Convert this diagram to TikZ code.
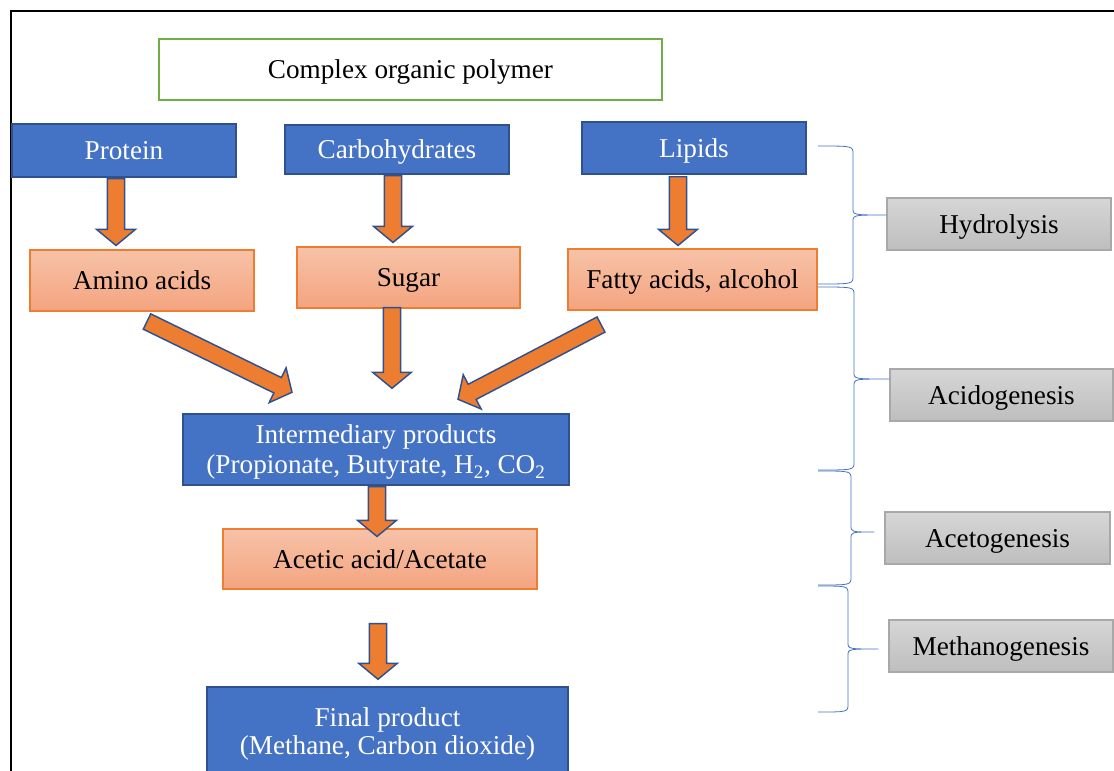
\documentclass[tikz,border=0pt]{standalone}
\usepackage{fontspec}
\setmainfont{Liberation Serif}
\usetikzlibrary{calc}

\definecolor{boxblue}{HTML}{4472C4}
\definecolor{boxblueline}{HTML}{2F528F}
\definecolor{peachtop}{HTML}{F7C2A8}
\definecolor{peachbot}{HTML}{F4A47F}
\definecolor{peachline}{HTML}{ED7D31}
\definecolor{arrowfill}{HTML}{ED7D31}
\definecolor{greyline}{HTML}{A8A8A8}
\definecolor{greytop}{HTML}{D6D6D6}
\definecolor{greybot}{HTML}{BEBEBE}
\definecolor{leafgreen}{HTML}{70AD47}
\definecolor{bracecol}{HTML}{4472C4}

% block arrow from #1 (tail) to #2 (tip)
\newcommand{\blockarrow}[2]{%
  \draw[blockarrowstyle]
    ($(#1)!6.4pt!90:(#2)$) --
    ($($(#2)!12pt!(#1)$)!6.4pt!90:(#2)$) --
    ($($(#2)!12pt!(#1)$)!14.5pt!90:(#2)$) --
    (#2) --
    ($($(#2)!12pt!(#1)$)!14.5pt!-90:(#2)$) --
    ($($(#2)!12pt!(#1)$)!6.4pt!-90:(#2)$) --
    ($(#1)!6.4pt!-90:(#2)$) -- cycle;}

% curly bracket: #1 top end, #2 bottom end, #3 tip, #4 spine offset
\newcommand{\stagebrace}[4]{%
  \draw[bracestyle] let \p1=(#1), \p2=(#2), \p3=(#3) in
    (\p1) .. controls (\x1+#4,\y1) .. (\x1+#4,\y1-6pt)
    -- (\x1+#4,\y3+5pt) .. controls (\x1+#4,\y3) .. (\p3)
    .. controls (\x1+#4,\y3) .. (\x1+#4,\y3-5pt)
    -- (\x1+#4,\y2+6pt) .. controls (\x1+#4,\y2) .. (\p2);}

\tikzset{
  label font/.style={font=\fontsize{20.4pt}{22.5pt}\selectfont},
  oneline/.style={text height=14pt, text depth=0pt},
  bluebox/.style={label font, draw=boxblueline, fill=boxblue, text=white,
    line width=1.1pt, inner sep=0pt, align=center},
  peachbox/.style={label font, oneline, draw=peachline, top color=peachtop,
    bottom color=peachbot, line width=0.8pt, inner sep=0pt, align=center},
  greybox/.style={label font, oneline, draw=greyline, top color=greytop,
    bottom color=greybot, line width=1pt, inner sep=0pt, align=center},
  greenbox/.style={label font, oneline, draw=leafgreen, fill=white, line width=1.1pt,
    inner sep=0pt, align=center},
  blockarrowstyle/.style={fill=arrowfill, draw=boxblueline, line width=1.1pt},
  bracestyle/.style={draw=bracecol, line width=0.6pt},
}

\begin{document}
\begin{tikzpicture}[x=0.75pt, y=-0.75pt]
\useasboundingbox (0,0) rectangle (1114,771);
\fill[white] (0,0) rectangle (1114,771);

% outer frame
\draw[black, line width=1.9pt] (11,790) -- (11,11) -- (1130,11);

% top box
\node[greenbox, minimum width=377pt, minimum height=45.75pt] (poly) at (410.5,69.5) {Complex organic polymer};

% polymer classes
\node[bluebox, oneline, minimum width=168pt, minimum height=39.75pt] (protein) at (124,150.5) {Protein};
\node[bluebox, oneline, minimum width=168pt, minimum height=36.75pt] (carbo) at (397,149.5) {Carbohydrates};
\node[bluebox, oneline, minimum width=168pt, minimum height=39pt] (lipids) at (694,148) {Lipids};

% hydrolysis products
\node[peachbox, minimum width=168pt, minimum height=45.75pt] (amino) at (142,280.5) {Amino acids};
\node[peachbox, minimum width=167.25pt, minimum height=45.75pt] (sugar) at (408.5,277.5) {Sugar};
\node[peachbox, minimum width=186.75pt, minimum height=45.75pt] (fatty) at (692.5,279.5) {Fatty acids, alcohol};

% later products
\node[bluebox, text depth=0pt, minimum width=289.5pt, minimum height=53.25pt] (inter) at (376,449.5)
  {Intermediary products\\(Propionate, Butyrate, H\textsubscript{2}, CO\textsubscript{2}};
\node[peachbox, minimum width=235.5pt, minimum height=45pt] (acetic) at (380,559) {Acetic acid/Acetate};
\node[bluebox, font=\fontsize{20.4pt}{20.5pt}\selectfont, minimum width=270.75pt, minimum height=70.5pt] (final) at (387.5,734)
  {Final product\\(Methane, Carbon dioxide)};

% process stages
\node[greybox, minimum width=168pt, minimum height=39pt] (hydro) at (999,224) {Hydrolysis};
\node[greybox, minimum width=167.25pt, minimum height=39pt] (acido) at (1001.5,395) {Acidogenesis};
\node[greybox, minimum width=168.75pt, minimum height=39pt] (aceto) at (997.5,538) {Acetogenesis};
\node[greybox, minimum width=168pt, minimum height=39pt] (metha) at (1001,646) {Methanogenesis};

% arrow ends
\coordinate (t1) at ($(protein.south)+(-8,1)$);
\coordinate (h1) at ($(amino.north)+(-26,-4)$);
\coordinate (t2) at ($(carbo.south)+(-4,1)$);
\coordinate (h2) at ($(sugar.north)+(-15.5,-4)$);
\coordinate (t3) at ($(lipids.south)+(-16,2)$);
\coordinate (h3) at ($(fatty.north)+(-14.5,-3)$);
\coordinate (t4) at ($(sugar.south)+(-16.5,-1)$);
\coordinate (h4) at ($(inter.north)+(16,-25)$);
\coordinate (t5) at ($(amino.south)+(5,10)$);
\coordinate (h5) at ($(inter.north)+(-84,-21)$);
\coordinate (t6) at ($(fatty.south)+(-91.5,14)$);
\coordinate (h6) at ($(inter.north)+(82,-14)$);
\coordinate (t7) at ($(inter.south)+(1,1)$);
\coordinate (h7) at ($(acetic.north)+(-3,8)$);
\coordinate (t8) at ($(acetic.south)+(-2,34)$);
\coordinate (h8) at ($(final.north)+(-9.5,-7)$);

\blockarrow{t1}{h1}
\blockarrow{t2}{h2}
\blockarrow{t3}{h3}
\blockarrow{t4}{h4}
\blockarrow{t5}{h5}
\blockarrow{t6}{h6}
\blockarrow{t7}{h7}
\blockarrow{t8}{h8}

% stage brackets
\coordinate (b1t) at (818,146);
\coordinate (b1b) at (818,284);
\coordinate (b1p) at ($(hydro.west)+(0,-9)$);
\coordinate (b2t) at (818,287);
\coordinate (b2b) at (818,470);
\coordinate (b2p) at ($(acido.west)+(0,-16)$);
\coordinate (b3t) at (818,471);
\coordinate (b3b) at (818,585);
\coordinate (b3p) at ($(aceto.west)+(-10,-6)$);
\coordinate (b4t) at (818,586);
\coordinate (b4b) at (818,712);
\coordinate (b4p) at ($(metha.west)+(-10,3)$);

\stagebrace{b1t}{b1b}{b1p}{26.25pt}
\stagebrace{b2t}{b2b}{b2p}{27pt}
\stagebrace{b3t}{b3b}{b3p}{24.75pt}
\stagebrace{b4t}{b4b}{b4p}{22.5pt}
\end{tikzpicture}
\end{document}
